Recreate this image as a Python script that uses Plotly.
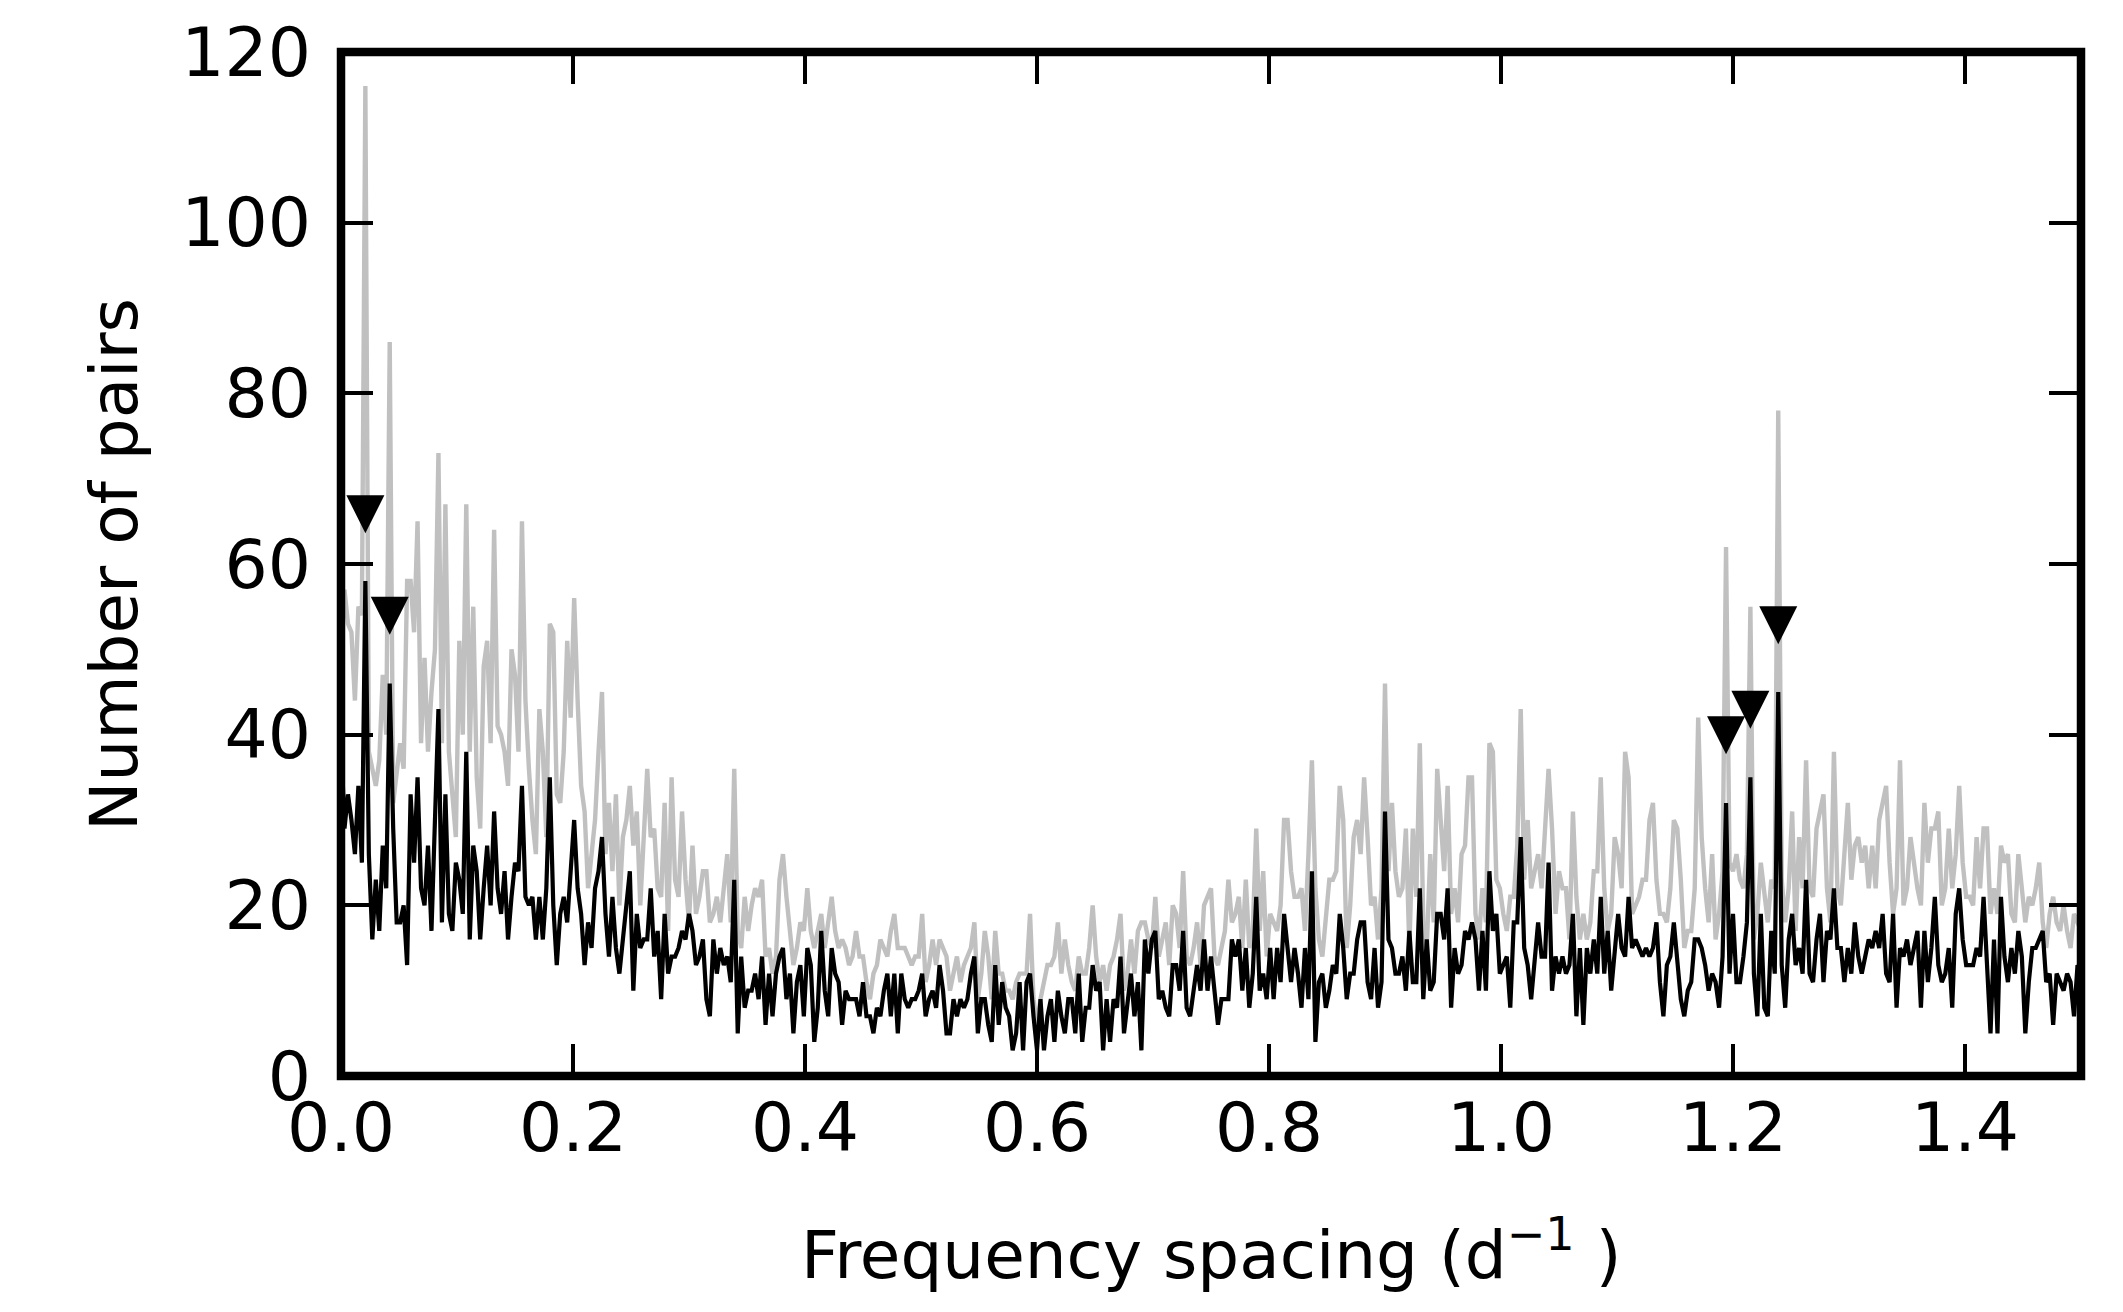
import numpy as np
import plotly.graph_objects as go

# Number of pairs versus frequency spacing, sampled every 0.003 d^-1 from 0 to 1.5
step = 0.003

gray_pairs = [
    55,57,53,52,44,55,54,116,38,36,
    34,37,47,40,86,32,36,39,36,58,
    58,52,65,39,49,38,45,50,73,39,
    67,38,33,28,51,40,67,38,55,35,
    29,48,51,39,64,41,40,38,34,50,
    47,38,65,44,36,30,26,43,38,28,
    53,52,33,32,38,51,42,56,44,34,
    31,22,26,30,38,45,26,32,24,33,
    20,28,30,34,27,31,20,28,36,28,
    29,22,21,32,17,35,23,21,31,23,
    18,27,19,21,24,24,18,19,21,18,
    22,26,18,36,17,15,21,17,20,22,
    21,23,14,15,12,14,23,26,21,17,
    13,15,18,17,22,17,15,17,19,15,
    18,21,17,15,16,15,13,14,17,14,
    14,11,9,12,13,16,15,14,17,19,
    15,15,15,14,13,14,14,19,11,13,
    16,13,16,15,14,10,12,14,11,13,
    14,15,18,9,12,17,14,9,17,12,
    12,10,10,9,11,12,12,12,19,9,
    6,9,11,13,13,14,18,12,16,13,
    11,10,14,12,12,15,20,14,11,13,
    10,13,14,16,19,10,12,16,12,17,
    18,18,16,15,21,14,16,18,13,20,
    19,15,24,14,13,15,18,13,20,21,
    22,14,13,15,17,23,18,19,21,15,
    23,15,17,29,17,24,14,19,18,17,
    20,30,30,24,21,21,22,17,26,37,
    22,16,14,18,23,23,24,34,30,15,
    20,28,30,26,35,28,20,21,16,22,
    46,24,32,24,21,22,29,15,29,21,
    39,18,15,26,18,36,29,24,34,19,
    22,18,26,27,35,35,19,16,22,18,
    39,38,23,22,19,17,21,21,27,43,
    23,30,22,24,26,22,30,36,29,19,
    24,22,22,16,31,21,16,19,16,18,
    24,24,35,22,17,19,28,26,22,38,
    35,19,20,21,23,23,30,32,23,19,
    19,18,22,30,29,23,15,17,17,22,
    42,28,22,18,26,16,19,24,62,25,
    24,26,23,22,26,55,16,19,25,21,
    18,23,22,78,23,18,22,31,17,28,
    22,37,22,21,29,31,33,22,18,38,
    22,20,27,32,23,27,28,25,27,22,
    27,22,30,32,34,25,19,22,37,20,
    22,28,25,22,20,32,25,29,29,31,
    20,22,29,22,26,34,25,21,21,20,
    28,22,29,29,19,22,19,27,25,26,
    19,18,26,22,18,21,20,22,25,18,
    15,19,21,18,17,20,17,15,19,18,
    17,
]

black_pairs = [
    40,29,33,30,26,34,25,58,26,16,
    23,17,27,22,46,29,18,18,20,13,
    33,25,35,22,20,27,17,31,43,18,
    33,19,17,25,23,19,38,16,27,24,
    16,22,27,20,31,22,19,24,16,21,
    25,24,34,21,20,21,16,21,16,22,
    35,20,13,19,21,18,24,30,22,19,
    13,18,15,22,24,28,19,14,21,15,
    12,16,20,24,10,19,15,16,16,22,
    14,17,9,19,12,14,14,15,17,16,
    19,17,13,14,16,9,7,16,12,15,
    13,14,11,23,5,14,8,10,10,12,
    9,14,6,12,7,12,14,15,9,12,
    5,11,13,7,15,13,4,8,17,10,
    7,15,12,11,6,10,9,9,9,7,
    11,7,7,5,8,7,10,12,7,12,
    5,12,9,8,9,9,10,12,7,9,
    10,8,13,10,5,5,9,7,9,8,
    9,12,14,5,9,9,6,4,13,6,
    11,8,7,3,5,11,3,11,12,7,
    3,9,3,7,9,4,10,7,5,9,
    9,5,12,4,8,8,13,10,11,3,
    9,4,9,8,14,5,9,12,7,11,
    3,16,12,16,17,9,10,8,7,13,
    13,10,17,8,7,10,13,10,16,10,
    14,10,6,9,9,9,16,14,16,10,
    15,8,12,21,10,12,9,15,9,15,
    11,19,15,11,15,12,8,15,9,24,
    4,11,12,8,10,13,12,19,15,9,
    12,12,16,18,18,11,9,15,8,11,
    31,16,15,12,12,14,10,17,11,11,
    22,9,16,10,11,19,19,16,22,8,
    15,12,13,17,16,18,16,10,17,10,
    24,17,19,12,13,14,8,18,18,28,
    15,13,9,13,18,14,14,25,10,14,
    12,14,12,13,19,7,15,6,15,12,
    16,12,21,12,17,10,14,19,15,14,
    21,15,16,15,14,15,14,15,18,11,
    7,13,14,18,14,9,7,10,11,16,
    16,15,13,10,12,11,8,14,32,12,
    19,11,11,14,18,35,12,7,19,8,
    7,17,12,45,13,8,16,19,13,15,
    12,23,12,11,16,19,11,17,16,22,
    15,15,11,15,12,18,14,12,14,16,
    15,17,15,19,12,11,19,8,15,14,
    16,13,15,17,8,17,11,15,21,13,
    11,12,15,8,19,22,16,13,13,13,
    15,14,21,12,5,16,5,21,14,11,
    15,12,17,14,5,11,15,15,16,17,
    11,12,6,12,11,10,12,11,7,13,
    12,
]

assert len(gray_pairs) == 501 and len(black_pairs) == 501, (len(gray_pairs), len(black_pairs))

freq_gray = np.round(np.arange(len(gray_pairs)) * step, 3)
freq_black = np.round(np.arange(len(black_pairs)) * step, 3)

# Marked peaks (downward triangles; value = position of the triangle's tip)
peak_freq = [0.021, 0.042, 1.194, 1.215, 1.239]
peak_tip = [63.6, 51.7, 37.7, 40.7, 50.6]

x_ticks = [0.0, 0.2, 0.4, 0.6, 0.8, 1.0, 1.2, 1.4]
x_ticktext = ["0.0", "0.2", "0.4", "0.6", "0.8", "1.0", "1.2", "1.4"]
y_ticks = [0, 20, 40, 60, 80, 100, 120]

FONT = "DejaVu Sans"
FS_TICK = 68
FS_TITLE = 66

fig = go.Figure()
fig.add_trace(go.Scatter(x=freq_gray, y=gray_pairs, mode="lines",
                         line=dict(color="#c0c0c0", width=4.4), hoverinfo="skip"))
fig.add_trace(go.Scatter(x=freq_black, y=black_pairs, mode="lines",
                         line=dict(color="#000000", width=4.2), hoverinfo="skip"))
fig.add_trace(go.Scatter(x=peak_freq, y=peak_tip, mode="markers",
                         marker=dict(symbol="arrow-down", size=38, color="#000000",
                                     line=dict(width=0)),
                         cliponaxis=False, hoverinfo="skip"))

axis_common = dict(
    showgrid=False, zeroline=False, showline=False,
    ticks="inside", ticklen=32, tickwidth=4, tickcolor="#000000",
    mirror="ticks",
    tickfont=dict(family=FONT, size=FS_TICK, color="#000000"),
)

fig.update_layout(
    width=2123, height=1312,
    margin=dict(l=341, r=42, t=52, b=236, pad=0),
    paper_bgcolor="white", plot_bgcolor="white",
    showlegend=False,
    font=dict(family=FONT, size=FS_TITLE, color="#000000"),
    xaxis=dict(range=[0, 1.5], tickvals=x_ticks, ticktext=x_ticktext,
               ticklabelstandoff=6, **axis_common),
    yaxis=dict(range=[0, 120], tickvals=y_ticks, ticklabelstandoff=29, **axis_common),
    shapes=[dict(type="rect", xref="paper", yref="paper", x0=0, y0=0, x1=1, y1=1,
                 line=dict(color="#000000", width=8.5), layer="above")],
    annotations=[
        dict(text="Number of pairs", xref="paper", yref="paper", x=-0.1305, y=0.5,
             xanchor="center", yanchor="middle", textangle=-90, showarrow=False,
             font=dict(family=FONT, size=FS_TITLE, color="#000000")),
        dict(text="Frequency spacing (d<sup>\u22121</sup> )", xref="paper", yref="paper",
             x=0.5, y=-0.170, xanchor="center", yanchor="middle", showarrow=False,
             font=dict(family=FONT, size=FS_TITLE, color="#000000")),
    ],
)

fig.write_html("out.html",
               config={"displayModeBar": False},
               post_script="document.body.style.margin='0px';"
                           "document.body.style.overflow='hidden';")
